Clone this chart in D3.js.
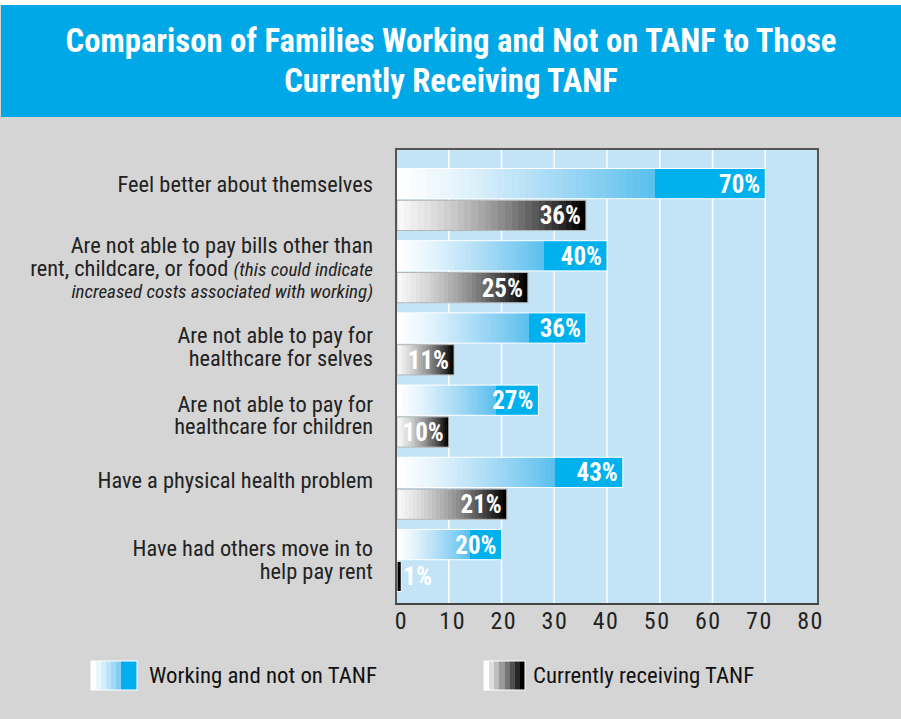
<!DOCTYPE html>
<meta charset="utf-8">
<script src="https://d3js.org/d3.v7.min.js"></script>
<style>
  body{margin:0;background:#d5d5d5;}
  text{font-family:"Roboto Condensed","Liberation Sans Narrow",sans-serif;}
</style>
<body>
<div id="chart"></div>
<script>
const categories=[
  ["Feel better about themselves"],
  ["Are not able to pay bills other than","rent, childcare, or food |(this could indicate","|increased costs associated with working)"],
  ["Are not able to pay for","healthcare for selves"],
  ["Are not able to pay for","healthcare for children"],
  ["Have a physical health problem"],
  ["Have had others move in to","help pay rent"]
];
const working=[70,40,36,27,43,20];
const receiving=[36,25,11,10,21,1];
const seriesNames=["Working and not on TANF","Currently receiving TANF"];
const xTicks=[0,10,20,30,40,50,60,70,80];
const titleLines=["Comparison of Families Working and Not on TANF to Those","Currently Receiving TANF"];

const W=901,H=719;
const svg=d3.select("#chart").append("svg")
  .attr("width",W).attr("height",H);

svg.append("rect").attr("width",W).attr("height",H).attr("fill","#d5d5d5");
svg.append("rect").attr("width",W).attr("height",5).attr("fill","#fff");
svg.append("rect").attr("x",1).attr("y",5).attr("width",W-1).attr("height",112).attr("fill","#00a8e8");

svg.append("text")
  .attr("x",451).attr("y",52)
  .attr("text-anchor","middle")
  .attr("fill","#fff").attr("font-weight","bold").attr("font-size",32.7)
  .selectAll("tspan").data(titleLines).join("tspan")
    .attr("x",451).attr("dy",(d,i)=>i?40:0).text(d=>d);

// plot area
const x=d3.scaleLinear().domain([0,80]).range([396,818]);
const xLab=d3.scaleLinear().domain([0,80]).range([401,810]);
const plotTop=149,plotBottom=604;
const y=d3.scaleBand().domain(d3.range(categories.length)).range([168.5,591.5]).paddingInner(0.141).paddingOuter(0);
const sub=d3.scaleBand().domain([0,1]).range([0,y.bandwidth()]).paddingInner(0.05);

// gradients (stepped)
const defs=svg.append("defs");
function stepped(id,stops,steps,rampEnd,endColor){
  const g=defs.append("linearGradient").attr("id",id)
    .attr("x1",0).attr("x2",1).attr("y1",0).attr("y2",0);
  const interp=d3.interpolateRgbBasis(stops);
  for(let i=0;i<steps;i++){
    const c=interp(i/(steps-1));
    g.append("stop").attr("offset",rampEnd*i/steps).attr("stop-color",c);
    g.append("stop").attr("offset",rampEnd*(i+1)/steps).attr("stop-color",c);
  }
  if(endColor){
    g.append("stop").attr("offset",rampEnd).attr("stop-color",endColor);
    g.append("stop").attr("offset",1).attr("stop-color",endColor);
  }
}
stepped("gBlue",["#ffffff","#e4f3fc","#b9e1f7","#8fd1f3","#5cc0ee"],36,0.7,"#00b1ee");
stepped("gGray",["#f8f8f8","#d4d4d4","#9c9c9c","#5a5a5a","#000000"],28,1,null);
stepped("lBlue",["#ffffff","#cbe9f9","#86cdf2"],6,0.65,"#00aeef");
stepped("lGray",["#ffffff","#8c8c8c","#000000"],8,1,null);

svg.append("rect").attr("x",x(0)).attr("y",plotTop).attr("width",x(80)-x(0)).attr("height",plotBottom-plotTop)
  .attr("fill","#c3e4f7");

svg.append("g").selectAll("line").data(xTicks.slice(1,-1)).join("line")
  .attr("x1",d=>x(d)).attr("x2",d=>x(d)).attr("y1",plotTop).attr("y2",plotBottom)
  .attr("stroke","#fff").attr("stroke-width",1.5);

const series=[working,receiving];
const fills=["url(#gBlue)","url(#gGray)"];
const strokes=["#fff","#b5b5b5"];
const ends=["#00aeef","#000"];

series.forEach((vals,s)=>{
  const g=svg.append("g");
  g.selectAll("rect").data(vals).join("rect")
    .attr("x",x(0)+1)
    .attr("y",(d,i)=>y(i)+sub(s))
    .attr("width",d=>x(d)-x(0)-1)
    .attr("height",sub.bandwidth())
    .attr("fill",d=>x(d)-x(0)<15?ends[s]:fills[s])
    .attr("stroke",d=>x(d)-x(0)<15?"#fff":strokes[s]).attr("stroke-width",1);
  g.selectAll("text").data(vals).join("text")
    .attr("x",d=>x(d)-x(0)<30?x(d)+2:x(d)-5)
    .attr("y",(d,i)=>y(i)+sub(s)+sub.bandwidth()/2+9)
    .attr("text-anchor",d=>x(d)-x(0)<30?"start":"end")
    .attr("fill","#fff").attr("font-weight","bold").attr("font-size",25)
    .text(d=>d+"%");
});

// frame
svg.append("path")
  .attr("d",`M${x(0)},${plotBottom}V${plotTop}H${x(80)}V${plotBottom}`)
  .attr("fill","none").attr("stroke","#555").attr("stroke-width",2);
svg.append("line").attr("x1",x(0)-1).attr("x2",x(80)+1).attr("y1",plotBottom).attr("y2",plotBottom)
  .attr("stroke","#444").attr("stroke-width",2);

const axis=svg.append("g").attr("transform",`translate(0,${plotBottom})`)
  .call(d3.axisBottom(xLab).tickValues(xTicks).tickSize(0).tickPadding(8));
axis.select(".domain").remove();
axis.selectAll("text").attr("font-size",24).attr("fill","#222")
  .attr("font-family","\"Roboto Condensed\",sans-serif")
  .attr("letter-spacing",1.5);

// category labels
const lineH=22.5;
const labelNudge=[-15,-3,3.5,0,-7,0];
const labels=svg.append("g").attr("text-anchor","end").attr("fill","#222");
categories.forEach((lines,i)=>{
  const cy=y(i)+y.bandwidth()/2+labelNudge[i];
  const t=labels.append("text").attr("x",373).attr("font-size",22.4);
  lines.forEach((ln,j)=>{
    const yy=cy-(lines.length-1)*lineH/2+j*lineH+7;
    const parts=ln.split("|");
    parts.forEach((p,k)=>{
      if(!p) return;
      const ts=t.append("tspan").text(p);
      if(k===0) ts.attr("x",373).attr("y",yy);
      if(k===1) ts.attr("font-style","italic").attr("font-size",19);
      if(k===1 && parts[0]==="") ts.attr("x",373).attr("y",yy);
    });
  });
});

// legend
const leg=[{x:91,w:46,tx:58,text:seriesNames[0],fill:"url(#lBlue)"},{x:484,w:41,tx:49,text:seriesNames[1],fill:"url(#lGray)"}];
const lg=svg.append("g").selectAll("g").data(leg).join("g")
  .attr("transform",d=>`translate(${d.x},661)`);
lg.append("rect").attr("width",d=>d.w).attr("height",29)
  .attr("fill",d=>d.fill).attr("stroke","#fff").attr("stroke-width",1);
lg.append("text").attr("x",d=>d.tx).attr("y",22)
  .attr("font-size",22.8).attr("fill","#111").text(d=>d.text);
</script>
</body>
